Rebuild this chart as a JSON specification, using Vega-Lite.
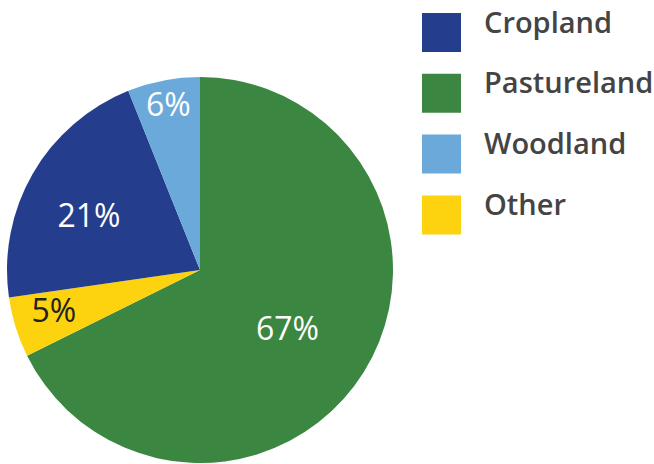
{
  "$schema": "https://vega.github.io/schema/vega-lite/v6.json",
  "width": 654,
  "height": 464,
  "autosize": {"type": "none"},
  "padding": 0,
  "background": "white",
  "data": {
    "values": [
      {"category": "Pastureland", "value": 67, "order": 1, "label": "67%"},
      {"category": "Other", "value": 5, "order": 2, "label": "5%"},
      {"category": "Cropland", "value": 21, "order": 3, "label": "21%"},
      {"category": "Woodland", "value": 6, "order": 4, "label": "6%"}
    ]
  },
  "encoding": {
    "theta": {"field": "value", "type": "quantitative", "stack": true},
    "order": {"field": "order", "type": "quantitative"}
  },
  "layer": [
    {
      "mark": {"type": "arc", "outerRadius": 193, "xOffset": -127, "yOffset": 38},
      "encoding": {
        "color": {
          "field": "category",
          "type": "nominal",
          "scale": {
            "domain": ["Cropland", "Pastureland", "Woodland", "Other"],
            "range": ["#243E8D", "#3B8640", "#6BA9DA", "#FDD20F"]
          },
          "legend": {
            "orient": "none",
            "legendX": 422,
            "legendY": 13,
            "title": null,
            "padding": 0,
            "symbolType": "square",
            "symbolSize": 1521,
            "symbolStrokeWidth": 0,
            "symbolOpacity": 1,
            "labelFont": "Open Sans",
            "labelFontSize": 29,
            "labelFontWeight": 600,
            "labelColor": "#444444",
            "labelBaseline": "alphabetic",
            "labelOffset": 23,
            "labelLimit": 300,
            "rowPadding": 17.8
          }
        }
      }
    },
    {
      "mark": {"type": "text", "font": "Open Sans", "fontSize": 32, "radius": 106, "thetaOffset": 0.045, "color": "white", "xOffset": -127, "yOffset": 38},
      "encoding": {
        "detail": {"field": "category", "type": "nominal"},
        "text": {"condition": {"test": "datum.category === 'Pastureland'", "field": "label"}, "value": ""}
      }
    },
    {
      "mark": {"type": "text", "font": "Open Sans", "fontSize": 32, "radius": 123, "thetaOffset": -0.079, "color": "white", "xOffset": -127, "yOffset": 38},
      "encoding": {
        "detail": {"field": "category", "type": "nominal"},
        "text": {"condition": {"test": "datum.category === 'Cropland'", "field": "label"}, "value": ""}
      }
    },
    {
      "mark": {"type": "text", "font": "Open Sans", "fontSize": 32, "radius": 167, "color": "white", "xOffset": -127, "yOffset": 38},
      "encoding": {
        "detail": {"field": "category", "type": "nominal"},
        "text": {"condition": {"test": "datum.category === 'Woodland'", "field": "label"}, "value": ""}
      }
    },
    {
      "mark": {"type": "text", "font": "Open Sans", "fontSize": 32, "radius": 152, "thetaOffset": 0.024, "color": "#222222", "xOffset": -127, "yOffset": 38},
      "encoding": {
        "detail": {"field": "category", "type": "nominal"},
        "text": {"condition": {"test": "datum.category === 'Other'", "field": "label"}, "value": ""}
      }
    }
  ],
  "config": {"view": {"stroke": null}}
}
